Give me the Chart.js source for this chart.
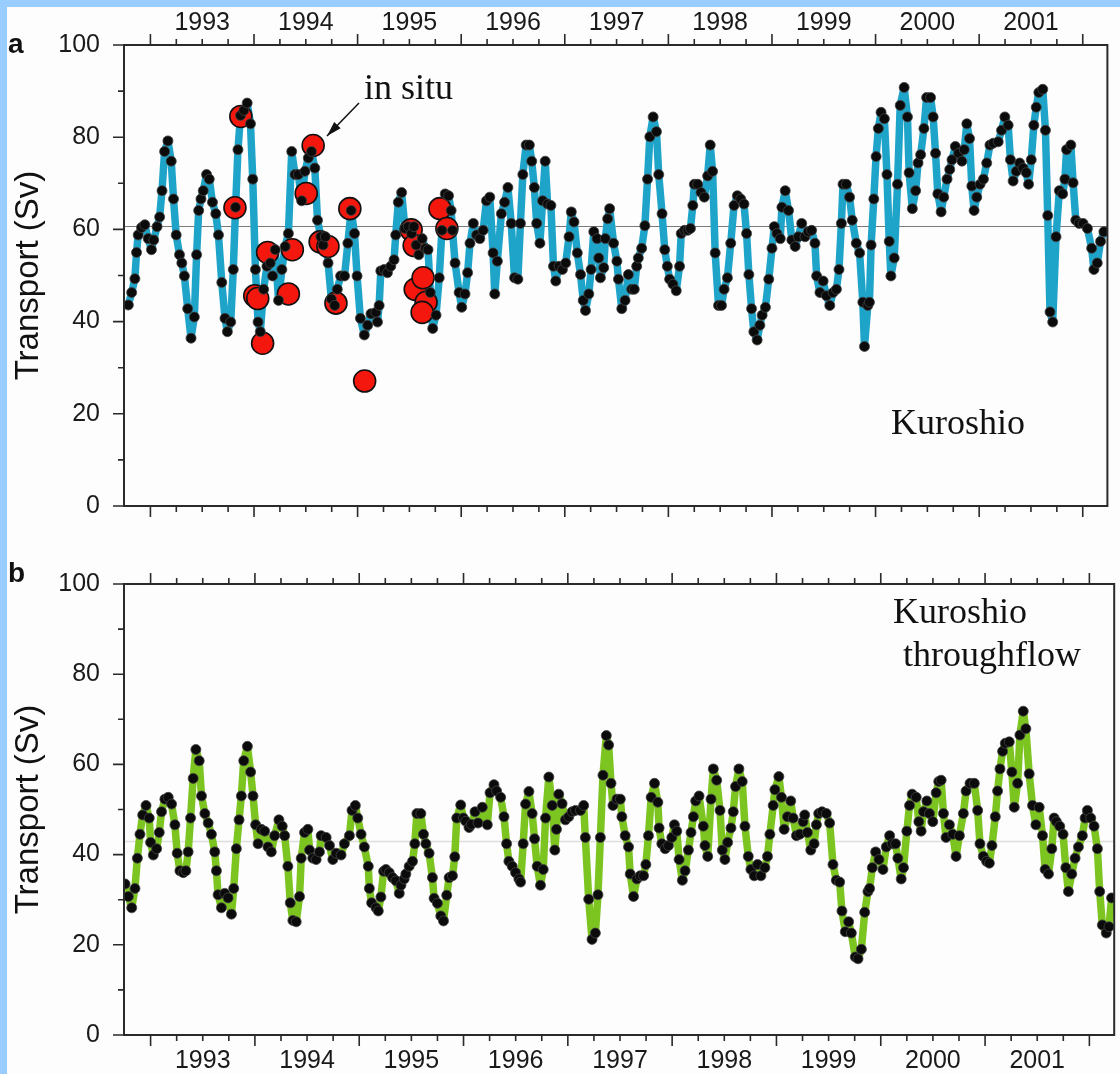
<!DOCTYPE html>
<html>
<head>
<meta charset="utf-8">
<title>Kuroshio transport</title>
<script src="https://cdn.jsdelivr.net/npm/chart.js@4.4.1/dist/chart.umd.min.js"></script>
<style>
  html, body { margin: 0; padding: 0; background: #fff; }
  #page { position: relative; width: 1120px; height: 1074px; background: #fdfdfd; overflow: hidden; }
  .band-left { position: absolute; left: 0; top: 0; width: 7px; height: 1074px; background: #99ccff; }
  .band-top { position: absolute; left: 0; top: 0; width: 1120px; height: 7px; background: #99ccff; }
  canvas { position: absolute; left: 0; }
  #chartA { top: 0; }
  #chartB { top: 545px; }
</style>
</head>
<body>
<div id="page">
  <canvas id="chartA" width="1120" height="545"></canvas>
  <canvas id="chartB" width="1120" height="529"></canvas>
  <div class="band-left"></div>
  <div class="band-top"></div>
</div>
<script>
// year labels (centred in each year) and transport ticks
const years = [1993, 1994, 1995, 1996, 1997, 1998, 1999, 2000, 2001];
const transportTicks = [0, 20, 40, 60, 80, 100];

// a) Kuroshio transport, time in decimal years, values in Sv
const kuroshioTime = [
  1992.787, 1992.819, 1992.850, 1992.866, 1992.882, 1992.914, 1992.946, 1992.978, 1993.010, 1993.032,
  1993.064, 1993.089, 1993.112, 1993.137, 1993.169, 1993.201, 1993.223, 1993.249, 1993.281, 1993.303,
  1993.328, 1993.360, 1993.392, 1993.424, 1993.446, 1993.466, 1993.488, 1993.510, 1993.542, 1993.568,
  1993.599, 1993.631, 1993.657, 1993.689, 1993.720, 1993.743, 1993.775, 1993.800, 1993.822, 1993.845,
  1993.870, 1993.902, 1993.934, 1993.966, 1993.988, 1994.014, 1994.039, 1994.061, 1994.093, 1994.125,
  1994.157, 1994.179, 1994.205, 1994.237, 1994.269, 1994.301, 1994.332, 1994.364, 1994.396, 1994.428,
  1994.460, 1994.492, 1994.524, 1994.555, 1994.587, 1994.613, 1994.645, 1994.667, 1994.689, 1994.715,
  1994.747, 1994.779, 1994.804, 1994.836, 1994.874, 1994.906, 1994.938, 1994.970, 1994.995, 1995.027,
  1995.065,
  1995.097, 1995.129, 1995.176, 1995.192, 1995.208, 1995.224, 1995.256, 1995.288, 1995.320, 1995.352,
  1995.368, 1995.393, 1995.425, 1995.457, 1995.489, 1995.521, 1995.543, 1995.565, 1995.591, 1995.623,
  1995.655, 1995.680, 1995.702, 1995.725, 1995.757, 1995.788, 1995.814, 1995.846, 1995.878, 1995.903,
  1995.916, 1995.941, 1995.980, 1996.005, 1996.037, 1996.062, 1996.085, 1996.117, 1996.149, 1996.180,
  1996.212, 1996.244, 1996.276, 1996.308, 1996.324, 1996.349, 1996.388, 1996.419, 1996.451, 1996.483,
  1996.515, 1996.547, 1996.572, 1996.595, 1996.627, 1996.658, 1996.681, 1996.706, 1996.729, 1996.760,
  1996.786, 1996.811, 1996.834, 1996.866, 1996.891, 1996.913, 1996.945, 1996.977, 1997.009, 1997.041,
  1997.063, 1997.089, 1997.121, 1997.152, 1997.178, 1997.200, 1997.232, 1997.254, 1997.280, 1997.312,
  1997.328, 1997.344, 1997.376, 1997.391, 1997.414, 1997.433,
  1997.471, 1997.503, 1997.518, 1997.550, 1997.582, 1997.614, 1997.646, 1997.671, 1997.694, 1997.710,
  1997.742, 1997.773, 1997.799, 1997.821, 1997.853, 1997.885, 1997.907, 1997.939, 1997.965, 1997.990,
  1998.012, 1998.044, 1998.076, 1998.108, 1998.124, 1998.156, 1998.188, 1998.213, 1998.236, 1998.251,
  1998.283, 1998.315, 1998.347, 1998.379, 1998.404, 1998.427, 1998.452, 1998.484, 1998.513, 1998.538,
  1998.570, 1998.602, 1998.634, 1998.666, 1998.698, 1998.730, 1998.755, 1998.777, 1998.803, 1998.825,
  1998.857, 1998.883, 1998.905, 1998.937, 1998.969, 1999.000, 1999.023, 1999.048, 1999.080, 1999.096,
  1999.128, 1999.160, 1999.192, 1999.224, 1999.255, 1999.287, 1999.319, 1999.351, 1999.383, 1999.415,
  1999.431, 1999.463, 1999.494, 1999.526, 1999.558, 1999.590, 1999.622, 1999.647, 1999.670, 1999.686,
  1999.718, 1999.749, 1999.775,
  1999.814, 1999.846, 1999.877, 1999.893, 1999.925, 1999.941, 1999.957, 1999.983, 2000.005, 2000.027,
  2000.053, 2000.085, 2000.110, 2000.132, 2000.148, 2000.180, 2000.212, 2000.238, 2000.276, 2000.308,
  2000.324, 2000.355, 2000.387, 2000.410, 2000.435, 2000.467, 2000.493, 2000.531, 2000.556, 2000.579,
  2000.601, 2000.633, 2000.658, 2000.690, 2000.716, 2000.738, 2000.770, 2000.802, 2000.834, 2000.856,
  2000.881, 2000.907, 2000.929, 2000.951, 2000.977, 2001.009, 2001.041, 2001.073, 2001.104, 2001.136,
  2001.184, 2001.216, 2001.248, 2001.280, 2001.302, 2001.328, 2001.359, 2001.391, 2001.423, 2001.455,
  2001.477, 2001.503, 2001.528, 2001.551, 2001.576, 2001.614, 2001.640, 2001.662, 2001.684, 2001.710,
  2001.742, 2001.774, 2001.806, 2001.828, 2001.844, 2001.885, 2001.907, 2001.933, 2001.965, 2002.003,
  2002.045, 2002.086, 2002.108, 2002.140, 2002.172, 2002.204
];
const kuroshioSv = [
  43.6, 46.3, 49.3, 55, 58.8, 60.4, 61, 58, 55.6, 57.7,
  60.6, 62.7, 68.4, 76.9, 79.2, 74.8, 66.6, 58.8, 54.5, 52.7,
  49.9, 42.8, 36.4, 41, 54.5, 64.1, 66.6, 68.4, 71.9, 70.9,
  65.9, 63.4, 58.8, 48.5, 40.7, 37.8, 39.9, 51.3, 64.8, 77.3,
  84.7, 85.8, 87.4, 82.9, 70.9, 51.3, 39.9, 37.8, 47, 52,
  52.7, 49.9, 55.6, 44.6, 51.3, 56.3, 59.1, 76.9, 71.9, 71.9,
  66.2, 72.6, 75.5, 76.9, 73.3, 62, 58.4, 56.6, 58.4, 52.7,
  44.9, 43.5, 47, 49.9, 49.9, 57, 64.1, 59.1, 49.9, 40.7,
  37.1,
  39.2, 41.7, 42, 39.9, 43.5, 51, 51.3, 50.6, 52, 53.4,
  58.8, 65.9, 68, 60.2, 60.6, 59.1, 60.6, 56.6, 54.5, 58,
  55.9, 55.6, 46.3, 38.5, 41.4, 49.5, 59.8, 67.7, 67.3, 64.1,
  59.8, 52.7, 46.3, 43.1, 46, 50.6, 57, 61.3, 58.8, 58,
  59.8, 66.2, 67, 54.9, 46, 53.1, 63.4, 65.9, 69.1, 61.3,
  49.5, 49.2, 61.3, 71.9, 78.3, 78.3, 74.8, 69.1, 61.3, 57,
  66.2, 74.8, 65.5, 65.2, 52, 48.8, 52, 51.3, 52.7, 58.4,
  63.8, 61.6, 54.9, 50.2, 44.6, 42.4, 46, 51.3, 59.5, 58,
  53.8, 49.5, 51.7, 58, 62.3, 64.5,
  57, 53.1, 49.2, 42.8, 44.6, 50.2, 47, 47, 52, 53.8,
  55.9, 60.8, 70.9, 80.1, 84.4, 81.2, 71.9, 63.4, 55.6, 52,
  49.2, 48.1, 46.7, 52, 59.1, 59.8, 59.8, 60.2, 65.2, 69.8,
  69.8, 68, 67, 71.6, 78.3, 72.6, 54.9, 43.5, 43.5, 47,
  49.5, 57, 65.2, 67.3, 66.6, 65.5, 59.1, 50.2, 42.8, 37.8,
  36, 39.2, 41.4, 43.1, 49.2, 55.9, 60.6, 59.1, 58, 64.8,
  68.4, 64.1, 57.7, 56.3, 58.4, 61.3, 58.4, 59.5, 59.8, 57,
  49.9, 46.3, 48.8, 45.6, 43.5, 46.3, 47, 51.3, 61.3, 69.8,
  69.8, 67, 62,
  57, 54.9, 44.2, 34.6, 43.5, 44.2, 56.6, 66.6, 75.8, 81.9,
  85.4, 84, 71.9, 57.4, 49.9, 53.8, 69.8, 86.9, 90.8, 84.4,
  72.3, 64.5, 68.4, 74.4, 76.2, 81.9, 88.6, 88.6, 84.4, 76.5,
  67.7, 63.8, 67, 70.9, 73, 75.1, 78, 76.5, 74.8, 77.3,
  82.9, 79.7, 69.4, 64.1, 67, 69.8, 70.9, 74.4, 78.3, 78.7,
  79, 81.5, 84.4, 82.6, 75.1, 70.5, 72.6, 74.4, 73.3, 72.3,
  69.8, 75.1, 82.6, 86.5, 89.7, 90.4, 81.5, 63, 42.1, 39.9,
  58.4, 68.4, 67.7, 70.9, 77.3, 78.3, 70.1, 62, 61.3, 61.3,
  60.2, 55.9, 51.3, 52.7, 57.4, 59.5
];

// a) in situ estimates (red circles)
const inSituTime = [
  1993.816, 1993.873, 1994.007, 1994.036, 1994.083, 1994.131, 1994.332, 1994.370, 1994.504, 1994.571,
  1994.638, 1994.714, 1994.791, 1994.925, 1995.068, 1995.517, 1995.546, 1995.556, 1995.632, 1995.661,
  1995.623, 1995.795, 1995.862
];
const inSituSv = [
  64.7, 84.5, 45.6, 45, 35.3, 55, 46, 55.6, 67.8, 78.2,
  57.3, 56.3, 44, 64.5, 27.1, 59.9, 56.5, 47, 49.5, 44.2,
  42, 64.5, 60.2
];

// b) Kuroshio throughflow
const throughflowTime = [
  1992.755, 1992.787, 1992.819, 1992.850, 1992.873, 1992.898, 1992.924, 1992.956, 1992.987, 1993.000,
  1993.026, 1993.058, 1993.083, 1993.105, 1993.137, 1993.169, 1993.201, 1993.233, 1993.255, 1993.281,
  1993.313, 1993.338, 1993.360, 1993.383, 1993.408, 1993.434, 1993.466, 1993.488, 1993.520, 1993.552,
  1993.583, 1993.615, 1993.631, 1993.647, 1993.679, 1993.711, 1993.743, 1993.775, 1993.797, 1993.822,
  1993.848, 1993.870, 1993.893, 1993.928, 1993.959, 1993.982, 1994.007, 1994.030, 1994.061, 1994.093,
  1994.125, 1994.157, 1994.189, 1994.230, 1994.262, 1994.285, 1994.316, 1994.339, 1994.364, 1994.396,
  1994.428, 1994.444, 1994.476, 1994.508, 1994.524, 1994.555, 1994.587, 1994.619, 1994.635, 1994.683,
  1994.715, 1994.747, 1994.779, 1994.826, 1994.858, 1994.906, 1994.931, 1994.963, 1994.986, 1995.018,
  1995.049,
  1995.087, 1995.097, 1995.119, 1995.161, 1995.183, 1995.208, 1995.234, 1995.256, 1995.288, 1995.320,
  1995.352, 1995.384, 1995.400, 1995.431, 1995.447, 1995.479, 1995.511, 1995.533, 1995.553, 1995.591,
  1995.616, 1995.639, 1995.670, 1995.702, 1995.718, 1995.750, 1995.782, 1995.808, 1995.839, 1995.862,
  1995.894, 1995.916, 1995.935, 1995.973, 1995.999, 1996.021, 1996.053, 1996.075, 1996.110, 1996.139,
  1996.180, 1996.228, 1996.254, 1996.292, 1996.317, 1996.356, 1996.388, 1996.413, 1996.435, 1996.467,
  1996.499, 1996.531, 1996.547, 1996.572, 1996.595, 1996.627, 1996.658, 1996.681, 1996.706, 1996.738,
  1996.764, 1996.786, 1996.818, 1996.850, 1996.875, 1996.891, 1996.913, 1996.945, 1996.977, 1997.009,
  1997.041, 1997.073, 1997.121, 1997.152, 1997.168, 1997.200, 1997.232, 1997.264, 1997.289, 1997.312,
  1997.337, 1997.369, 1997.391, 1997.414, 1997.433,
  1997.471, 1997.503, 1997.518, 1997.550, 1997.582, 1997.598, 1997.630, 1997.662, 1997.694, 1997.726,
  1997.748, 1997.773, 1997.799, 1997.831, 1997.863, 1997.875, 1997.901, 1997.933, 1997.965, 1997.997,
  1998.022, 1998.044, 1998.067, 1998.098, 1998.124, 1998.156, 1998.181, 1998.204, 1998.226, 1998.258,
  1998.299, 1998.315, 1998.341, 1998.373, 1998.395, 1998.427, 1998.459, 1998.481, 1998.506, 1998.532,
  1998.564, 1998.586, 1998.608, 1998.640, 1998.672, 1998.698, 1998.730, 1998.755, 1998.787, 1998.819,
  1998.851, 1998.889, 1998.914, 1998.937, 1998.969, 1998.985, 1999.023, 1999.048, 1999.074, 1999.106,
  1999.137, 1999.160, 1999.192, 1999.224, 1999.255, 1999.271, 1999.297, 1999.329, 1999.361, 1999.383,
  1999.405, 1999.437, 1999.478, 1999.510, 1999.542, 1999.574, 1999.606, 1999.628, 1999.660, 1999.692,
  1999.718, 1999.756,
  1999.782, 1999.814, 1999.846, 1999.877, 1999.893, 1999.919, 1999.951, 1999.983, 2000.021, 2000.053,
  2000.085, 2000.110, 2000.142, 2000.164, 2000.196, 2000.218, 2000.250, 2000.276, 2000.301, 2000.340,
  2000.365, 2000.387, 2000.410, 2000.442, 2000.467, 2000.499, 2000.531, 2000.556, 2000.579, 2000.601,
  2000.626, 2000.658, 2000.690, 2000.722, 2000.754, 2000.792, 2000.818, 2000.856, 2000.897, 2000.929,
  2000.951, 2000.983, 2001.015, 2001.041, 2001.066, 2001.098, 2001.120, 2001.143, 2001.168, 2001.194,
  2001.232, 2001.257, 2001.280, 2001.312, 2001.334, 2001.366, 2001.391, 2001.423, 2001.455, 2001.487,
  2001.519, 2001.551, 2001.576, 2001.608, 2001.640, 2001.662, 2001.684, 2001.716, 2001.748, 2001.774,
  2001.799, 2001.831, 2001.863, 2001.895, 2001.933, 2001.959, 2001.981, 2002.013, 2002.045, 2002.077,
  2002.099, 2002.124, 2002.162, 2002.188, 2002.213
];
const throughflowSv = [
  33.5, 30.7, 28.2, 32.5, 39.2, 44.5, 48.8, 50.9, 48.1, 42.7,
  39.9, 41.3, 44.9, 49.5, 52.3, 52.7, 51.2, 46.6, 40.3, 36.4,
  36, 36.4, 40.6, 48.1, 56.9, 63.3, 60.8, 53, 49.1, 47,
  44.5, 40.6, 36.4, 31.1, 28.2, 31.4, 30.4, 26.8, 32.5, 41.3,
  47.7, 53, 60.8, 64, 58.3, 53, 46.6, 42.4, 45.6, 45.2,
  41.7, 40.6, 44.2, 47.7, 46.3, 44.2, 37.4, 29.3, 25.4, 25.1,
  30.7, 39.2, 44.9, 45.6, 41, 39.2, 38.9, 40.6, 44.2, 43.8,
  42, 38.9, 40.3, 39.9, 42.4, 44.2, 49.8, 50.9, 48.1, 44.5,
  41.7,
  37.4, 32.5, 29.3, 28.2, 27.5, 30.6, 36.3, 36.7, 36, 34.9,
  34.2, 31.4, 33.2, 34.6, 35.7, 37.4, 38.5, 42.4, 49.1, 49.1,
  44.5, 42.4, 40.3, 34.9, 30.3, 29.2, 26.4, 25.3, 31, 34.9,
  35.3, 39.5, 48.1, 51, 48.1, 47.4, 46, 46.7, 49.5, 47,
  50.5, 46.6, 53.7, 55.5, 54.1, 52.7, 48.4, 42.4, 38.5, 37.4,
  36, 34.6, 33.9, 42.4, 51.2, 54, 49.1, 43.5, 37.4, 33.2,
  36.7, 48.1, 57.2, 50.9, 41, 45.6, 53.4, 51.3, 47.7, 48.4,
  49.5, 49.8, 49.8, 50.9, 43.8, 30.1, 21.2, 22.6, 31.1, 43.8,
  57.6, 66.4, 64.3, 55.8, 50.9,
  52.3, 52.3, 48.4, 44.2, 41.7, 35.7, 30.7, 34.6, 35.3, 35.3,
  37.8, 44.2, 52.7, 55.8, 51.6, 45.9, 42.4, 41.3, 42, 43.8,
  46.6, 45.2, 38.9, 34.3, 36.4, 41, 44.9, 48.4, 51.9, 53,
  46.3, 42, 39.6, 52.3, 59, 56.5, 49.8, 41, 38.9, 42.7,
  45.9, 49.5, 55.1, 59, 56.2, 46.3, 39.6, 36.7, 35.3, 37.8,
  35.3, 37.1, 39.6, 44.5, 50.9, 54.4, 57.3, 52.7, 45.6, 48.4,
  51.9, 48.1, 44.2, 44.5, 47.3, 48.8, 44.9, 41, 42.4, 46.6,
  49.1, 49.5, 49.1, 47, 37.8, 34.3, 33.9, 27.5, 22.9, 25.1,
  22.6, 17.3,
  16.9, 19, 27.2, 31.8, 32.5, 37.1, 40.6, 38.9, 36.7, 41.7,
  44.2, 42.4, 42.4, 39.2, 34.6, 37.1, 45.2, 50.9, 53.4, 52.7,
  47.3, 45.2, 49.5, 51.9, 49.1, 47.3, 53.7, 56.2, 56.5, 49.1,
  43.8, 46.6, 44.5, 39.6, 44.2, 49.1, 54.1, 55.8, 55.8, 49.8,
  42.4, 39.6, 38.5, 38.1, 42, 48.4, 54.1, 59, 62.9, 64.7,
  65, 58.3, 50.5, 55.8, 66.5, 71.8, 67.9, 57.9, 50.9, 46.6,
  50.5, 44.2, 36.7, 35.7, 41.3, 48.1, 47.3, 46.3, 44.5, 37.1,
  31.8, 35.7, 39.2, 41.7, 44.2, 48.1, 49.8, 48.1, 46.3, 41.3,
  31.8, 24.4, 22.6, 24, 30.4
];

// record means (thin horizontal lines)
const kuroshioMean = 60.7;
const throughflowMean = 43.1;

const timeMin = 1992.745;
const timeMax = 2002.238;

Chart.defaults.font.family = '"Liberation Sans", Arial, Helvetica, sans-serif';
Chart.defaults.color = '#1a1a1a';

function toPoints(t, v) {
    return t.map((x, i) => ({ x: x, y: v[i] }));
}

// frame, outward ticks, mean line and the text notes
const panelDecor = {
    id: 'panelDecor',
    beforeDatasetsDraw(chart, args, o) {
        const { ctx, chartArea: a, scales: { y } } = chart;
        const py = Math.round(y.getPixelForValue(o.mean)) + 0.5;
        ctx.save();
        ctx.strokeStyle = o.meanColor;
        ctx.lineWidth = o.meanWidth;
        ctx.beginPath();
        ctx.moveTo(a.left, py);
        ctx.lineTo(a.right, py);
        ctx.stroke();
        ctx.restore();
    },
    afterDraw(chart, args, o) {
        const { ctx, chartArea: a, scales: { x, y } } = chart;
        ctx.save();
        ctx.strokeStyle = '#2a2a2a';
        ctx.lineWidth = 2;
        ctx.strokeRect(a.left, a.top, a.right - a.left, a.bottom - a.top);

        ctx.lineWidth = 1.6;
        ctx.beginPath();
        for (let v = 0; v <= 100; v += 10) {
            const py = y.getPixelForValue(v);
            const len = v % 20 === 0 ? 11 : 6;
            ctx.moveTo(a.left - len, py);
            ctx.lineTo(a.left, py);
        }
        for (let q = 1993; q <= timeMax; q += 0.25) {
            const px = x.getPixelForValue(q);
            const len = Math.abs(q - Math.round(q)) < 0.01 ? 11 : 6;
            ctx.moveTo(px, a.top - len);
            ctx.lineTo(px, a.top);
            ctx.moveTo(px, a.bottom);
            ctx.lineTo(px, a.bottom + len);
        }
        ctx.stroke();

        ctx.fillStyle = '#111';
        ctx.font = 'bold 28px "Liberation Sans", Arial, sans-serif';
        ctx.textBaseline = 'alphabetic';
        ctx.fillText(o.letter, 8, o.letterY);

        // y axis title
        ctx.save();
        ctx.translate(29, (a.top + a.bottom) / 2);
        ctx.rotate(-Math.PI / 2);
        ctx.font = '33px "Liberation Sans", Arial, sans-serif';
        ctx.textAlign = 'center';
        ctx.textBaseline = 'middle';
        ctx.fillText('Transport (Sv)', 0, 0);
        ctx.restore();

        ctx.font = '36px "Liberation Serif", "Times New Roman", serif';
        o.notes.forEach(n => ctx.fillText(n.text, n.x, n.y));

        if (o.arrow) {
            const [x1, y1, x2, y2] = o.arrow;
            ctx.strokeStyle = '#111';
            ctx.lineWidth = 1.5;
            ctx.beginPath();
            ctx.moveTo(x1, y1);
            ctx.lineTo(x2, y2);
            ctx.stroke();
            const ang = Math.atan2(y2 - y1, x2 - x1);
            const c = Math.cos(ang), s = Math.sin(ang);
            ctx.beginPath();
            ctx.moveTo(x2, y2);
            ctx.lineTo(x2 - 15 * c + 4.5 * s, y2 - 15 * s - 4.5 * c);
            ctx.lineTo(x2 - 15 * c - 4.5 * s, y2 - 15 * s + 4.5 * c);
            ctx.closePath();
            ctx.fill();
        }
        ctx.restore();
    }
};

function makePanel(canvasId, opts) {
    const datasets = [
        {
            data: toPoints(opts.time, opts.values),
            showLine: false,
            pointRadius: 5,
            pointBackgroundColor: '#0b0b0b',
            pointBorderColor: '#444',
            pointBorderWidth: 0.8,
            order: 0
        }
    ];
    if (opts.extra) datasets.push(opts.extra);
    datasets.push({
        data: toPoints(opts.time, opts.values),
        showLine: true,
        borderColor: opts.lineColor,
        borderWidth: 7.5,
        borderJoinStyle: 'round',
        pointRadius: 0,
        tension: 0,
        order: 5
    });

    return new Chart(document.getElementById(canvasId), {
        type: 'scatter',
        data: { datasets: datasets },
        options: {
            responsive: false,
            animation: false,
            devicePixelRatio: 1,
            events: [],
            layout: { padding: opts.padding },
            plugins: {
                legend: { display: false },
                tooltip: { enabled: false },
                panelDecor: opts.decor
            },
            scales: {
                x: {
                    type: 'linear',
                    position: opts.xPosition,
                    min: timeMin,
                    max: timeMax,
                    grid: { display: false, drawTicks: false },
                    border: { display: false },
                    afterBuildTicks: s => { s.ticks = years.map(yr => ({ value: yr + 0.5 })); },
                    afterFit: s => { s.height = opts.xHeight; },
                    ticks: {
                        font: { size: 25 },
                        padding: opts.xPad,
                        maxRotation: 0,
                        autoSkip: false,
                        callback: v => String(Math.floor(v))
                    }
                },
                y: {
                    min: 0,
                    max: 100,
                    grid: { display: false, drawTicks: false },
                    border: { display: false },
                    afterBuildTicks: s => { s.ticks = transportTicks.map(v => ({ value: v })); },
                    afterFit: s => { s.width = 124; },
                    ticks: { font: { size: 25 }, padding: 24 }
                }
            }
        },
        plugins: [panelDecor]
    });
}

// panel a
makePanel('chartA', {
    time: kuroshioTime,
    values: kuroshioSv,
    lineColor: '#1ea3c9',
    xPosition: 'top',
    xHeight: 45,
    xPad: 7,
    padding: { left: 0, right: 3, top: 0, bottom: 32 },
    extra: {
        data: toPoints(inSituTime, inSituSv),
        showLine: false,
        pointRadius: 11,
        pointBackgroundColor: '#f3170d',
        pointBorderColor: '#111',
        pointBorderWidth: 1.6,
        order: 1
    },
    decor: {
        mean: kuroshioMean,
        meanColor: '#7a7a7a',
        meanWidth: 1,
        letter: 'a',
        letterY: 53,
        notes: [
            { text: 'in situ', x: 364, y: 99 },
            { text: 'Kuroshio', x: 891, y: 434 }
        ],
        arrow: [359, 103, 327, 136]
    }
});

// panel b
makePanel('chartB', {
    time: throughflowTime,
    values: throughflowSv,
    lineColor: '#7cc41f',
    xPosition: 'bottom',
    xHeight: 34,
    xPad: 11,
    padding: { left: 0, right: 3, top: 27, bottom: 0 },
    decor: {
        mean: throughflowMean,
        meanColor: '#dedede',
        meanWidth: 1.5,
        letter: 'b',
        letterY: 37,
        notes: [
            { text: 'Kuroshio', x: 893, y: 78 },
            { text: 'throughflow', x: 903, y: 121 }
        ]
    }
});
</script>
</body>
</html>
